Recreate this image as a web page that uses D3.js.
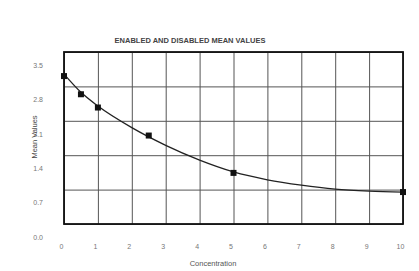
<!DOCTYPE html>
<html>
<head>
<meta charset="utf-8">
<script src="https://cdn.jsdelivr.net/npm/d3@7"></script>
<style>
  body { margin: 0; background: #fff; }
  text { font-family: 'Liberation Sans', Arial, sans-serif; }
</style>
</head>
<body>
<svg id="chart"></svg>
<script>
// measured points
let concentrations = [0, 0.5, 1, 2.5, 5, 10]
let meanValues = [3.01, 2.64, 2.37, 1.80, 1.04, 0.65]
// fitted curve
let fitX = [0, 0.5, 1, 2, 3, 4, 5, 6, 7, 8, 9, 10]
let fitY = [3.05, 2.68, 2.40, 1.96, 1.60, 1.30, 1.06, 0.90, 0.79, 0.71, 0.67, 0.65]
let xTicks = [0, 1, 2, 3, 4, 5, 6, 7, 8, 9, 10]
let yTicks = [0, 0.7, 1.4, 2.1, 2.8, 3.5]

let W = 419, H = 271
let margin = { top: 52, right: 16, bottom: 47, left: 64 }
let width = W - margin.left - margin.right
let height = H - margin.top - margin.bottom

let svg = d3.select('#chart').attr('width', W).attr('height', H)
let chart = svg.append('g')
  .attr('transform', 'translate(' + margin.left + ',' + margin.top + ')')

let x = d3.scaleLinear().domain([0, 10]).range([0, width])
let y = d3.scaleLinear().domain([0, 3.5]).range([height, 0])

// grid
chart.append('g')
  .call(d3.axisBottom(x).tickValues(xTicks).tickSize(height).tickFormat(''))
  .call(g => g.select('.domain').remove())
  .call(g => g.selectAll('line').attr('stroke', '#555').attr('stroke-width', 1))
chart.append('g')
  .call(d3.axisLeft(y).tickValues(yTicks).tickSize(-width).tickFormat(''))
  .call(g => g.select('.domain').remove())
  .call(g => g.selectAll('line').attr('stroke', '#555').attr('stroke-width', 1))

// frame
chart.append('rect')
  .attr('width', width).attr('height', height)
  .attr('fill', 'none').attr('stroke', '#111').attr('stroke-width', 1.8)

// tick labels (scan has them shifted off the grid)
chart.append('g')
  .attr('transform', 'translate(-3,' + height + ')')
  .call(d3.axisBottom(x).tickValues(xTicks).tickSize(0).tickPadding(20).tickFormat(d3.format('d')))
  .call(g => g.select('.domain').remove())
  .call(g => g.selectAll('text').attr('font-size', '7px').attr('fill', '#777'))

chart.append('g')
  .attr('transform', 'translate(-18,13)')
  .call(d3.axisLeft(y).tickValues(yTicks).tickSize(0).tickPadding(3).tickFormat(d3.format('.1f')))
  .call(g => g.select('.domain').remove())
  .call(g => g.selectAll('text').attr('font-size', '7px').attr('fill', '#777'))

// fitted curve
let fit = fitX.map((d, i) => ({ x: d, y: fitY[i] }))
let line = d3.line()
  .x(d => x(d.x))
  .y(d => y(d.y))
  .curve(d3.curveMonotoneX)
chart.append('path')
  .datum(fit)
  .attr('d', line)
  .attr('fill', 'none')
  .attr('stroke', '#222')
  .attr('stroke-width', 1.3)

// points
chart.selectAll('.pt')
  .data(concentrations)
  .enter()
  .append('rect')
  .attr('class', 'pt')
  .attr('x', d => x(d) - 3)
  .attr('y', (d, i) => y(meanValues[i]) - 3)
  .attr('width', 6).attr('height', 6)
  .attr('fill', '#111')

// titles
svg.append('text')
  .attr('x', 190).attr('y', 43)
  .attr('text-anchor', 'middle')
  .attr('font-size', '7.5px').attr('font-weight', 'bold')
  .attr('fill', '#444')
  .text('ENABLED AND DISABLED MEAN VALUES')
svg.append('text')
  .attr('x', 213).attr('y', 266)
  .attr('text-anchor', 'middle')
  .attr('font-size', '7.5px')
  .attr('fill', '#555')
  .text('Concentration')
svg.append('text')
  .attr('transform', 'translate(37,137) rotate(-90)')
  .attr('text-anchor', 'middle')
  .attr('font-size', '7.5px')
  .attr('fill', '#444')
  .text('Mean Values')
</script>
</body>
</html>
